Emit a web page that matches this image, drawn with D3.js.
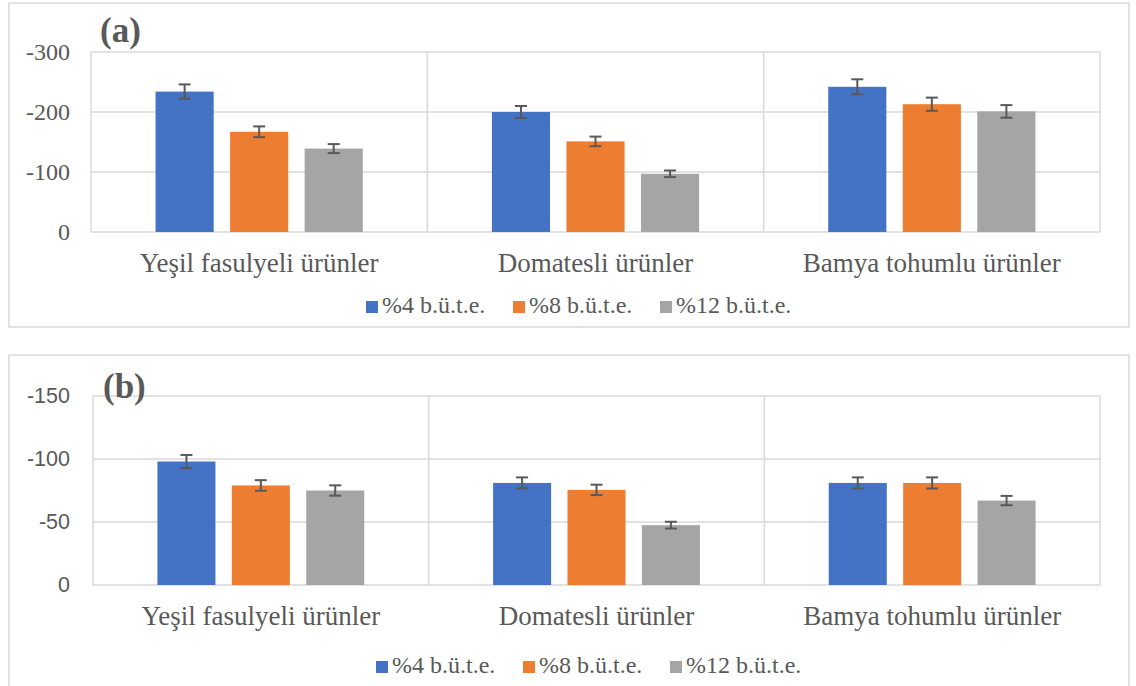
<!DOCTYPE html>
<html>
<head>
<meta charset="utf-8">
<script src="https://cdn.jsdelivr.net/npm/d3@7"></script>
<style>
  html, body { margin: 0; padding: 0; background: #fff; }
  svg { display: block; }
</style>
</head>
<body>
<svg id="chart" width="1136" height="686"></svg>
<script>
// Product groups and additive levels
const categories = ["Yeşil fasulyeli ürünler", "Domatesli ürünler", "Bamya tohumlu ürünler"];
const seriesNames = ["%4 b.ü.t.e.", "%8 b.ü.t.e.", "%12 b.ü.t.e."];
const seriesColors = ["#4472C4", "#ED7D31", "#A5A5A5"];

// Panel (a) means and standard deviations
const a4 = [-234, -200, -242];
const a8 = [-167, -151, -213];
const a12 = [-139, -97, -201];
const aErr4 = [12, 10, 12.5];
const aErr8 = [9, 8, 11];
const aErr12 = [7.5, 5.5, 10.5];
const aTicks = [0, -100, -200, -300];

// Panel (b) means and standard deviations
const b4 = [-98, -81, -81];
const b8 = [-79, -75.5, -81];
const b12 = [-75, -47.5, -67];
const bErr4 = [5.2, 4.4, 4.4];
const bErr8 = [4.2, 4.1, 4.4];
const bErr12 = [4.1, 2.7, 3.7];
const bTicks = [0, -50, -100, -150];

const TEXT = "#595959";
const GRID = "#D9D9D9";
const SERIF = "'Liberation Serif', 'Times New Roman', serif";
const SANS = "'Liberation Sans', Arial, sans-serif";

const svg = d3.select("#chart");

const panels = [
  {
    tag: "(a)", values: [a4, a8, a12], errors: [aErr4, aErr8, aErr12], ticks: aTicks,
    frame: { x: 9, y: 3, w: 1120, h: 324 },
    plot: { l: 91, r: 1100, t: 52, b: 232 },
    tickFont: SERIF, tickSize: 24, tickPad: 21,
    tagPos: { x: 100, y: 42 },
    catBaseline: 272, legendBaseline: 313, legendX: 366
  },
  {
    tag: "(b)", values: [b4, b8, b12], errors: [bErr4, bErr8, bErr12], ticks: bTicks,
    frame: { x: 9, y: 355, w: 1120, h: 345 },
    plot: { l: 93, r: 1100, t: 396, b: 585 },
    tickFont: SANS, tickSize: 21.5, tickPad: 23,
    tagPos: { x: 103, y: 398 },
    catBaseline: 625, legendBaseline: 673, legendX: 376
  }
];

panels.forEach(p => {
  const g = svg.append("g");

  // outer frame
  g.append("rect")
    .attr("x", p.frame.x).attr("y", p.frame.y)
    .attr("width", p.frame.w).attr("height", p.frame.h)
    .attr("fill", "#fff").attr("stroke", GRID).attr("stroke-width", 1.5);

  const x0 = d3.scaleBand().domain(categories).range([p.plot.l, p.plot.r]).padding(0);
  const x1 = d3.scaleBand().domain(seriesNames).range([0, x0.bandwidth()])
    .paddingInner(0.22).paddingOuter(0.866);
  const maxTick = d3.min(p.ticks);
  const y = d3.scaleLinear().domain([0, maxTick]).range([p.plot.b, p.plot.t]);

  // horizontal gridlines
  g.append("g").selectAll("line").data(p.ticks).join("line")
    .attr("x1", p.plot.l).attr("x2", p.plot.r)
    .attr("y1", d => y(d)).attr("y2", d => y(d))
    .attr("stroke", GRID).attr("stroke-width", 1.5);

  // vertical gridlines at category boundaries
  const vx = categories.map(c => x0(c)).concat([p.plot.r]);
  g.append("g").selectAll("line").data(vx).join("line")
    .attr("x1", d => d).attr("x2", d => d)
    .attr("y1", p.plot.t).attr("y2", p.plot.b)
    .attr("stroke", GRID).attr("stroke-width", 1.5);

  // value axis labels
  const yAxis = d3.axisLeft(y).tickValues(p.ticks).tickSize(0).tickPadding(p.tickPad)
    .tickFormat(d => d === 0 ? "0" : String(d));
  const ya = g.append("g").attr("transform", `translate(${p.plot.l},0)`).call(yAxis);
  ya.select(".domain").remove();
  ya.attr("font-family", null).attr("font-size", null);
  ya.selectAll("text")
    .attr("fill", TEXT)
    .style("font-family", p.tickFont)
    .style("font-size", p.tickSize + "px");

  // bars
  const rows = [];
  categories.forEach((c, ci) => {
    seriesNames.forEach((s, si) => {
      rows.push({ c, s, si, v: p.values[si][ci], e: p.errors[si][ci] });
    });
  });

  g.append("g").selectAll("rect").data(rows).join("rect")
    .attr("x", d => x0(d.c) + x1(d.s))
    .attr("width", x1.bandwidth())
    .attr("y", d => y(d.v))
    .attr("height", d => y(0) - y(d.v))
    .attr("fill", d => seriesColors[d.si]);

  // error bars
  const eb = g.append("g").attr("stroke", "#595959").attr("stroke-width", 2);
  rows.forEach(d => {
    const cx = x0(d.c) + x1(d.s) + x1.bandwidth() / 2;
    const yTop = y(d.v - d.e), yBot = y(d.v + d.e);
    eb.append("line").attr("x1", cx).attr("x2", cx).attr("y1", yTop).attr("y2", yBot);
    eb.append("line").attr("x1", cx - 6).attr("x2", cx + 6).attr("y1", yTop).attr("y2", yTop);
    eb.append("line").attr("x1", cx - 6).attr("x2", cx + 6).attr("y1", yBot).attr("y2", yBot);
  });

  // category labels
  g.append("g").selectAll("text").data(categories).join("text")
    .attr("x", d => x0(d) + x0.bandwidth() / 2)
    .attr("y", p.catBaseline)
    .attr("text-anchor", "middle")
    .attr("fill", TEXT)
    .style("font-family", SERIF).style("font-size", "27px")
    .text(d => d);

  // panel tag
  g.append("text")
    .attr("x", p.tagPos.x).attr("y", p.tagPos.y)
    .attr("fill", TEXT)
    .style("font-family", SERIF).style("font-size", "35px").style("font-weight", "bold")
    .text(p.tag);

  // legend
  const lg = g.append("g");
  seriesNames.forEach((s, i) => {
    const lx = p.legendX + i * 147;
    lg.append("rect")
      .attr("x", lx).attr("y", p.legendBaseline - 12)
      .attr("width", 12).attr("height", 12)
      .attr("fill", seriesColors[i]);
    lg.append("text")
      .attr("x", lx + 16).attr("y", p.legendBaseline)
      .attr("fill", TEXT)
      .style("font-family", SERIF).style("font-size", "24px")
      .text(s);
  });
});
</script>
</body>
</html>
